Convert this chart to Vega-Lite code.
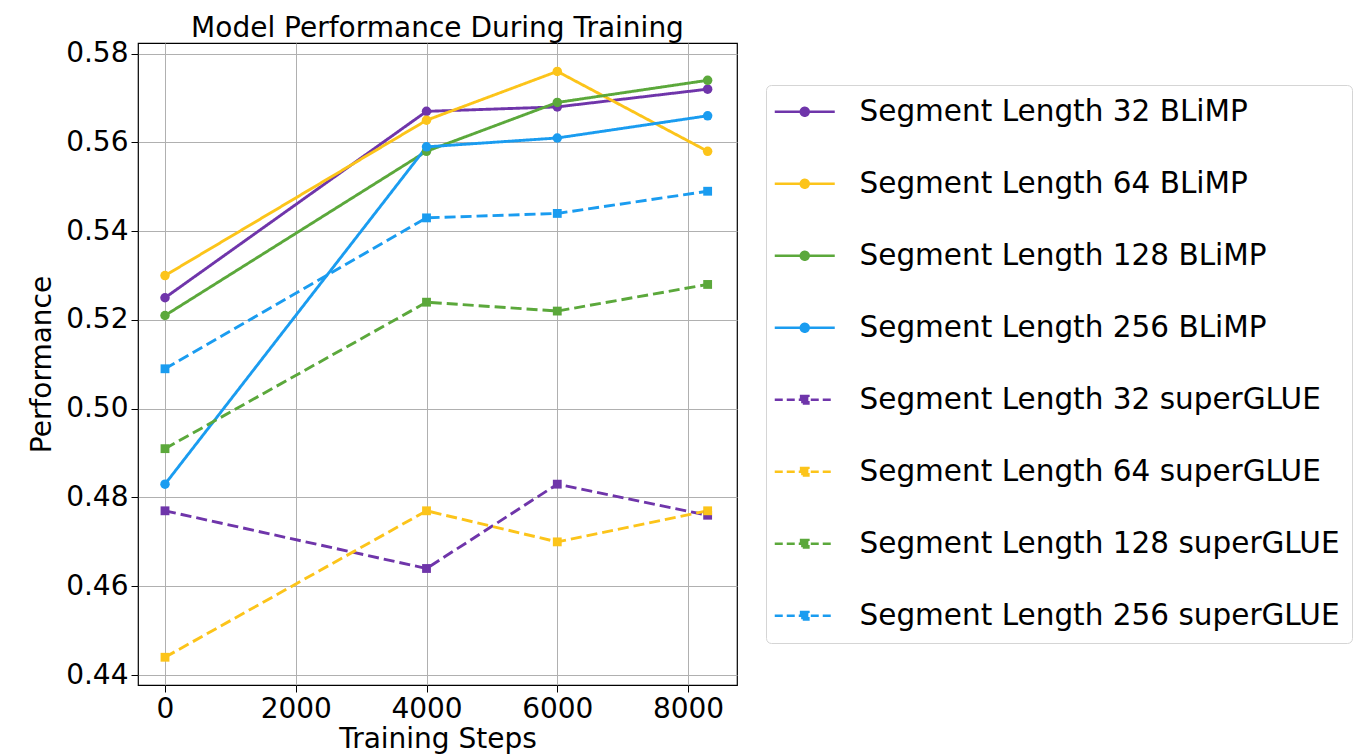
{
  "$schema": "https://vega.github.io/schema/vega-lite/v6.json",
  "autosize": "none",
  "width": 599,
  "height": 642,
  "padding": {"left": 138, "top": 43, "right": 620, "bottom": 71},
  "background": "white",
  "title": {
    "text": "Model Performance During Training",
    "font": "DejaVu Sans",
    "fontSize": 28,
    "fontWeight": "normal",
    "color": "black",
    "anchor": "middle",
    "frame": "group",
    "baseline": "bottom",
    "offset": 2,
    "dy": 33
  },
  "config": {
    "font": "DejaVu Sans",
    "view": {"stroke": "black", "strokeWidth": 1.2},
    "axis": {
      "domain": false,
      "grid": true,
      "gridColor": "#b0b0b0",
      "gridWidth": 1,
      "gridOpacity": 1,
      "tickColor": "black",
      "tickSize": 7,
      "tickWidth": 1,
      "labelFont": "DejaVu Sans",
      "labelFontSize": 28,
      "labelColor": "black",
      "titleFont": "DejaVu Sans",
      "titleFontSize": 28,
      "titleFontWeight": "normal",
      "titleColor": "black"
    }
  },
  "data": {
    "values": [
      {"series": "Segment Length 32 BLiMP", "task": "BLiMP", "step": 0, "perf": 0.525},
      {"series": "Segment Length 32 BLiMP", "task": "BLiMP", "step": 4000, "perf": 0.567},
      {"series": "Segment Length 32 BLiMP", "task": "BLiMP", "step": 6000, "perf": 0.568},
      {"series": "Segment Length 32 BLiMP", "task": "BLiMP", "step": 8300, "perf": 0.572},
      {"series": "Segment Length 64 BLiMP", "task": "BLiMP", "step": 0, "perf": 0.530},
      {"series": "Segment Length 64 BLiMP", "task": "BLiMP", "step": 4000, "perf": 0.565},
      {"series": "Segment Length 64 BLiMP", "task": "BLiMP", "step": 6000, "perf": 0.576},
      {"series": "Segment Length 64 BLiMP", "task": "BLiMP", "step": 8300, "perf": 0.558},
      {"series": "Segment Length 128 BLiMP", "task": "BLiMP", "step": 0, "perf": 0.521},
      {"series": "Segment Length 128 BLiMP", "task": "BLiMP", "step": 4000, "perf": 0.558},
      {"series": "Segment Length 128 BLiMP", "task": "BLiMP", "step": 6000, "perf": 0.569},
      {"series": "Segment Length 128 BLiMP", "task": "BLiMP", "step": 8300, "perf": 0.574},
      {"series": "Segment Length 256 BLiMP", "task": "BLiMP", "step": 0, "perf": 0.483},
      {"series": "Segment Length 256 BLiMP", "task": "BLiMP", "step": 4000, "perf": 0.559},
      {"series": "Segment Length 256 BLiMP", "task": "BLiMP", "step": 6000, "perf": 0.561},
      {"series": "Segment Length 256 BLiMP", "task": "BLiMP", "step": 8300, "perf": 0.566},
      {"series": "Segment Length 32 superGLUE", "task": "superGLUE", "step": 0, "perf": 0.477},
      {"series": "Segment Length 32 superGLUE", "task": "superGLUE", "step": 4000, "perf": 0.464},
      {"series": "Segment Length 32 superGLUE", "task": "superGLUE", "step": 6000, "perf": 0.483},
      {"series": "Segment Length 32 superGLUE", "task": "superGLUE", "step": 8300, "perf": 0.476},
      {"series": "Segment Length 64 superGLUE", "task": "superGLUE", "step": 0, "perf": 0.444},
      {"series": "Segment Length 64 superGLUE", "task": "superGLUE", "step": 4000, "perf": 0.477},
      {"series": "Segment Length 64 superGLUE", "task": "superGLUE", "step": 6000, "perf": 0.470},
      {"series": "Segment Length 64 superGLUE", "task": "superGLUE", "step": 8300, "perf": 0.477},
      {"series": "Segment Length 128 superGLUE", "task": "superGLUE", "step": 0, "perf": 0.491},
      {"series": "Segment Length 128 superGLUE", "task": "superGLUE", "step": 4000, "perf": 0.524},
      {"series": "Segment Length 128 superGLUE", "task": "superGLUE", "step": 6000, "perf": 0.522},
      {"series": "Segment Length 128 superGLUE", "task": "superGLUE", "step": 8300, "perf": 0.528},
      {"series": "Segment Length 256 superGLUE", "task": "superGLUE", "step": 0, "perf": 0.509},
      {"series": "Segment Length 256 superGLUE", "task": "superGLUE", "step": 4000, "perf": 0.543},
      {"series": "Segment Length 256 superGLUE", "task": "superGLUE", "step": 6000, "perf": 0.544},
      {"series": "Segment Length 256 superGLUE", "task": "superGLUE", "step": 8300, "perf": 0.549}
    ]
  },
  "encoding": {
    "x": {
      "field": "step",
      "type": "quantitative",
      "scale": {"domain": [-413, 8749], "nice": false, "zero": false},
      "axis": {"values": [0, 2000, 4000, 6000, 8000], "format": "d", "title": "Training Steps", "labelPadding": 3, "titlePadding": 2}
    },
    "y": {
      "field": "perf",
      "type": "quantitative",
      "scale": {"domain": [0.43775, 0.5824], "nice": false, "zero": false},
      "axis": {"values": [0.44, 0.46, 0.48, 0.50, 0.52, 0.54, 0.56, 0.58], "format": ".2f", "title": "Performance", "labelPadding": 3, "titlePadding": 9}
    },
    "color": {
      "field": "series",
      "type": "nominal",
      "scale": {
        "domain": ["Segment Length 32 BLiMP", "Segment Length 64 BLiMP", "Segment Length 128 BLiMP", "Segment Length 256 BLiMP", "Segment Length 32 superGLUE", "Segment Length 64 superGLUE", "Segment Length 128 superGLUE", "Segment Length 256 superGLUE"],
        "range": ["#6f35aa", "#fcc41a", "#5ba83b", "#1a9cf0", "#6f35aa", "#fcc41a", "#5ba83b", "#1a9cf0"]
      }
    }
  },
  "layer": [
    {
      "mark": {"type": "line", "strokeWidth": 2.9},
      "encoding": {
        "strokeDash": {
          "field": "task",
          "type": "nominal",
          "scale": {"domain": ["BLiMP", "superGLUE"], "range": [[1, 0], [11, 5]]},
          "legend": null
        },
        "detail": {"field": "series"},
        "color": {
          "field": "series",
          "type": "nominal",
          "sort": null,
          "legend": {
            "orient": "none",
            "legendX": 628,
            "legendY": 42,
            "title": null,
            "labelFont": "DejaVu Sans",
            "labelFontSize": 29.5,
            "labelColor": "black",
            "labelLimit": 600,
            "labelOffset": 52,
            "rowPadding": 41,
            "padding": 12,
            "cornerRadius": 5,
            "strokeColor": "#d5d5d5",
            "fillColor": "white",
            "symbolSize": 400,
            "symbolStrokeWidth": 2.6,
            "encode": {
              "symbols": {
                "update": {
                  "shape": {"signal": "test(/superGLUE/, datum.value) ? 'M-1.8,0L4.2,0M0.84,-0.36L1.56,-0.36L1.56,0.36L0.84,0.36Z' : 'M-1.8,0L4.2,0M0.81,0A0.39,0.39,0,1,0,1.59,0A0.39,0.39,0,1,0,0.81,0Z'"},
                  "strokeDash": {"signal": "test(/superGLUE/, datum.value) ? [8, 4] : [1, 0]"},
                  "fill": {"scale": "color", "field": "value"},
                  "stroke": {"scale": "color", "field": "value"},
                  "opacity": {"value": 1},
                  "fillOpacity": {"value": 1}
                }
              }
            }
          }
        }
      }
    },
    {
      "transform": [{"filter": "datum.task === 'BLiMP'"}],
      "mark": {"type": "point", "shape": "circle", "filled": true, "size": 90, "opacity": 1},
      "encoding": {"color": {"field": "series", "type": "nominal", "legend": null}}
    },
    {
      "transform": [{"filter": "datum.task === 'superGLUE'"}],
      "mark": {"type": "point", "shape": "square", "filled": true, "size": 78, "opacity": 1},
      "encoding": {"color": {"field": "series", "type": "nominal", "legend": null}}
    }
  ]
}
